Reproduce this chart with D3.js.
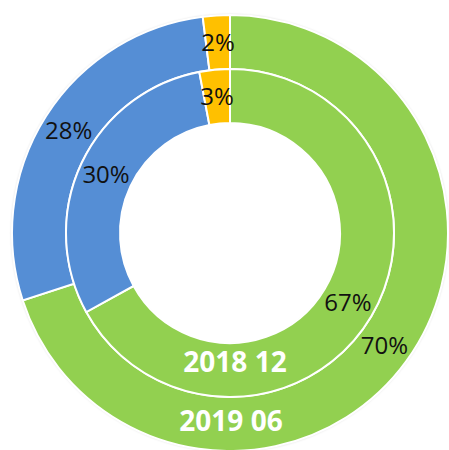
<!DOCTYPE html>
<html><head><meta charset="utf-8">
<script src="https://cdn.jsdelivr.net/npm/d3@7"></script>
<style>html,body{margin:0;padding:0;background:#fff;overflow:hidden}</style>
</head><body>
<svg id="chart" width="449" height="450"></svg>
<script>
const categories = ["Green", "Blue", "Orange"];
const series = ["2018 12", "2019 06"];
const values2018 = [67, 30, 3];
const values2019 = [70, 28, 2];
const colors = ["#92D050", "#558ED5", "#FFC000"];

const svg = d3.select("#chart");
const cx = 230, cy = 233;
const rings = [
  {name: series[0], values: values2018, r0: 110, r1: 164},
  {name: series[1], values: values2019, r0: 164, r1: 218}
];
const defs = svg.append("defs");
const f = defs.append("filter").attr("id","sh").attr("x","-10%").attr("y","-10%").attr("width","120%").attr("height","120%");
f.append("feDropShadow").attr("dx",0).attr("dy",0).attr("stdDeviation",1.6).attr("flood-color","#000").attr("flood-opacity",0.35);

const color = d3.scaleOrdinal().domain(categories).range(colors);
const pie = d3.pie().sort(null).value(d => d.v);
const g = svg.append("g").attr("transform", `translate(${cx},${cy})`);

rings.slice().reverse().forEach(ring => {
  const data = pie(ring.values.map((v,i) => ({v, c: categories[i]})));
  const arc = d3.arc().innerRadius(ring.r0).outerRadius(ring.r1);
  const rg = g.append("g");
  if (ring.name === series[1]) {
    rg.append("circle").attr("r", ring.r1 - 0.5).attr("fill","#fff").attr("filter","url(#sh)");
  }
  rg.selectAll("path").data(data).join("path")
    .attr("d", arc)
    .attr("fill", d => color(d.data.c))
    .attr("stroke", "#fff").attr("stroke-width", 2);
  rg.selectAll("text").data(data).join("text")
    .attr("x", d => arc.centroid(d)[0])
    .attr("y", d => arc.centroid(d)[1])
    .attr("text-anchor","middle").attr("dy","0.36em")
    .attr("font-family","'Open Sans', sans-serif").attr("font-size", 24)
    .attr("fill","#111")
    .text(d => d.data.v + "%");
});
// series names
const nameArc = [
  {name: series[0], r: 139, dx: 5},
  {name: series[1], r: 198, dx: 1}
];
g.selectAll("text.series").data(nameArc).join("text").attr("class","series")
  .attr("x", d => d.dx).attr("y", d => d.r)
  .attr("text-anchor","middle")
  .attr("font-family","'Open Sans', sans-serif").attr("font-weight","bold")
  .attr("font-size", 28).attr("fill","#fff")
  .text(d => d.name);
</script>
</body></html>
